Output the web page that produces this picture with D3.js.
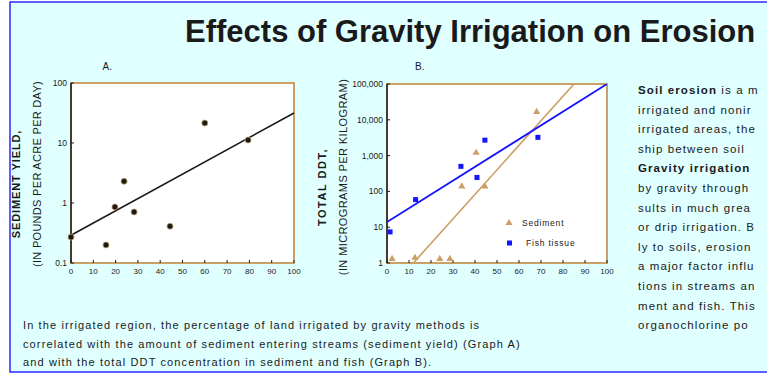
<!DOCTYPE html>
<html>
<head>
<meta charset="utf-8">
<script src="https://cdn.jsdelivr.net/npm/d3@7"></script>
<style>
  body { margin: 0; background: #fff; }
  svg { display: block; font-family: "Liberation Sans", Arial, Helvetica, sans-serif; }
</style>
</head>
<body>
<div id="chart"></div>
<script>
// Graph A: sediment yield vs percent of land gravity irrigated
const gravityPctA = [0, 15.7, 19.7, 23.8, 28.3, 44.4, 60, 79.4];
const sedimentYield = [0.27, 0.2, 0.86, 2.3, 0.71, 0.41, 21.5, 11.2];
const trendAx = [0, 100];
const trendAy = [0.29, 31.6];
const ticksA = [0.1, 1, 10, 100];
const tickLabelsA = ["0.1", "1", "10", "100"];

// Graph B: total DDT vs percent of land gravity irrigated
const sedimentPct = [2.3, 12.7, 24, 28.6, 34, 44.5, 40.5, 68];
const sedimentDDT = [1.3, 1.4, 1.3, 1.3, 138, 138, 1200, 16600];
const fishPct = [1.4, 13, 33.6, 40.9, 44.5, 68.6];
const fishDDT = [7.4, 59, 500, 245, 2700, 3240];
const sedLineX = [12, 85];
const sedLineY = [1, 100000];
const fishLineX = [0, 100];
const fishLineY = [14, 100000];
const ticksB = [1, 10, 100, 1000, 10000, 100000];
const tickLabelsB = ["1", "10", "100", "1,000", "10,000", "100,000"];

const xTicks = [0, 10, 20, 30, 40, 50, 60, 70, 80, 90, 100];

// only the part of the side column that shows inside the page
const sideText = [
  [["Soil erosion", true], [" is a m", false]],
  [["irrigated and nonir", false]],
  [["irrigated areas, the", false]],
  [["ship between soil", false]],
  [["Gravity irrigation", true]],
  [["by gravity through", false]],
  [["sults in much grea", false]],
  [["or drip irrigation. B", false]],
  [["ly to soils, erosion", false]],
  [["a major factor influ", false]],
  [["tions in streams an", false]],
  [["ment and fish. This", false]],
  [["organochlorine po", false]]
];
const bottomText = [
  "In the irrigated region, the percentage of land irrigated by gravity methods is",
  "correlated with the amount of sediment entering streams (sediment yield) (Graph A)",
  "and with the total DDT concentration in sediment and fish (Graph B)."
];

const W = 767, H = 375;
const tan = "#c9a065", blue = "#1414ff", ink = "#1a1a1a";

const svg = d3.select("#chart").append("svg")
  .attr("width", W).attr("height", H);

svg.append("rect")
  .attr("x", 10).attr("y", 2).attr("width", 800).attr("height", 370)
  .attr("fill", "#e0ffff").attr("stroke", "#2b2bff").attr("stroke-width", 1.5);

svg.append("text")
  .attr("x", 185).attr("y", 42)
  .attr("font-size", 31).attr("font-weight", "bold").attr("fill", ink)
  .text("Effects of Gravity Irrigation on Erosion");

function drawFrame(g, x, y, label, tickVals, tickLabels) {
  const [x0, x1] = x.range();
  const [y0, y1] = y.range();
  g.append("rect")
    .attr("x", x0).attr("y", y1).attr("width", x1 - x0).attr("height", y0 - y1)
    .attr("fill", "#fff").attr("stroke", tan).attr("stroke-width", 2);
  g.append("line")
    .attr("x1", x0).attr("x2", x0).attr("y1", y1).attr("y2", y0)
    .attr("stroke", ink).attr("stroke-width", 1.5);

  g.selectAll(".yl").data(tickVals).join("text")
    .attr("x", x0 - 4).attr("y", d => y(d)).attr("dy", "0.35em")
    .attr("text-anchor", "end").attr("font-size", 8.5).attr("fill", ink)
    .text((d, i) => tickLabels[i]);
  g.selectAll(".yt").data(tickVals).join("line")
    .attr("x1", x0).attr("x2", x0 + 3).attr("y1", d => y(d)).attr("y2", d => y(d))
    .attr("stroke", ink);

  g.selectAll(".xl").data(xTicks).join("text")
    .attr("x", d => x(d)).attr("y", y0 + 11)
    .attr("text-anchor", "middle").attr("font-size", 8).attr("fill", ink)
    .text(d => d);
  g.selectAll(".xt").data(xTicks).join("line")
    .attr("x1", d => x(d)).attr("x2", d => x(d)).attr("y1", y0).attr("y2", y0 - 3)
    .attr("stroke", ink);

  g.append("text")
    .attr("x", (x0 + x1) / 2 - label.dx).attr("y", 70)
    .attr("font-size", 10).attr("fill", ink).text(label.t);
}

function drawYTitle(cx, cy, lines, spacing) {
  lines.forEach((l, i) => {
    svg.append("text")
      .attr("transform", `translate(${cx + i * 21},${cy - i * 10}) rotate(-90)`)
      .attr("text-anchor", "middle")
      .attr("font-size", 11).attr("font-weight", i === 0 ? "bold" : "normal")
      .attr("letter-spacing", spacing[i])
      .attr("fill", ink).text(l);
  });
}

// Graph A
const xA = d3.scaleLinear().domain([0, 100]).range([71, 294]);
const yA = d3.scaleLog().domain([0.1, 100]).range([263, 83]);
const gA = svg.append("g");
drawFrame(gA, xA, yA, { t: "A.", dx: 80 }, ticksA, tickLabelsA);
drawYTitle(20, 184, ["SEDIMENT YIELD,", "(IN POUNDS PER ACRE PER DAY)"], [0.9, 0.3]);

gA.append("path")
  .datum(d3.zip(trendAx, trendAy))
  .attr("d", d3.line().x(d => xA(d[0])).y(d => yA(d[1])))
  .attr("stroke", ink).attr("stroke-width", 1.6).attr("fill", "none");

gA.selectAll(".pa").data(d3.zip(gravityPctA, sedimentYield)).join("circle")
  .attr("cx", d => xA(d[0])).attr("cy", d => yA(d[1])).attr("r", 3)
  .attr("fill", ink).attr("stroke", tan).attr("stroke-width", 0.8);

// Graph B
const xB = d3.scaleLinear().domain([0, 100]).range([387, 607]);
const yB = d3.scaleLog().domain([1, 100000]).range([263, 84]);
const gB = svg.append("g");
drawFrame(gB, xB, yB, { t: "B.", dx: 82 }, ticksB, tickLabelsB);
drawYTitle(326, 187, ["TOTAL DDT,", "(IN MICROGRAMS PER KILOGRAM)"], [1.5, 0.4]);

svg.append("clipPath").attr("id", "clipB").append("rect")
  .attr("x", 387).attr("y", 84).attr("width", 220).attr("height", 179);

const lineB = d3.line().x(d => xB(d[0])).y(d => yB(d[1]));
gB.append("path").datum(d3.zip(sedLineX, sedLineY))
  .attr("d", lineB).attr("clip-path", "url(#clipB)")
  .attr("stroke", tan).attr("stroke-width", 1.6).attr("fill", "none");
gB.append("path").datum(d3.zip(fishLineX, fishLineY))
  .attr("d", lineB).attr("clip-path", "url(#clipB)")
  .attr("stroke", blue).attr("stroke-width", 1.8).attr("fill", "none");

const tri = d3.symbol().type(d3.symbolTriangle).size(22);
gB.selectAll(".ps").data(d3.zip(sedimentPct, sedimentDDT)).join("path")
  .attr("transform", d => `translate(${xB(d[0])},${yB(d[1])})`)
  .attr("d", tri).attr("fill", tan);
gB.selectAll(".pf").data(d3.zip(fishPct, fishDDT)).join("rect")
  .attr("x", d => xB(d[0]) - 2.5).attr("y", d => yB(d[1]) - 2.5)
  .attr("width", 5).attr("height", 5).attr("fill", blue);

// legend
const leg = gB.append("g").attr("font-size", 8.5).attr("letter-spacing", 0.8).attr("fill", ink);
leg.append("path").attr("transform", "translate(509,223)").attr("d", tri).attr("fill", tan);
leg.append("text").attr("x", 522).attr("y", 223).attr("dy", "0.35em").text("Sediment");
leg.append("rect").attr("x", 507).attr("y", 240.5).attr("width", 5).attr("height", 5).attr("fill", blue);
leg.append("text").attr("x", 526).attr("y", 243).attr("dy", "0.35em").text("Fish tissue");

// side text
const st = svg.append("g").attr("font-size", 11.5).attr("letter-spacing", 1.1).attr("fill", ink);
sideText.forEach((parts, i) => {
  const t = st.append("text").attr("x", 638).attr("y", 94 + i * 19.6);
  parts.forEach(p => t.append("tspan").attr("font-weight", p[1] ? "bold" : "normal").text(p[0]));
});

// bottom text
svg.append("g").attr("font-size", 11).attr("letter-spacing", 1.12).attr("fill", ink)
  .selectAll("text").data(bottomText).join("text")
  .attr("x", 23).attr("y", (d, i) => 329 + i * 18.5)
  .text(d => d);
</script>
</body>
</html>
